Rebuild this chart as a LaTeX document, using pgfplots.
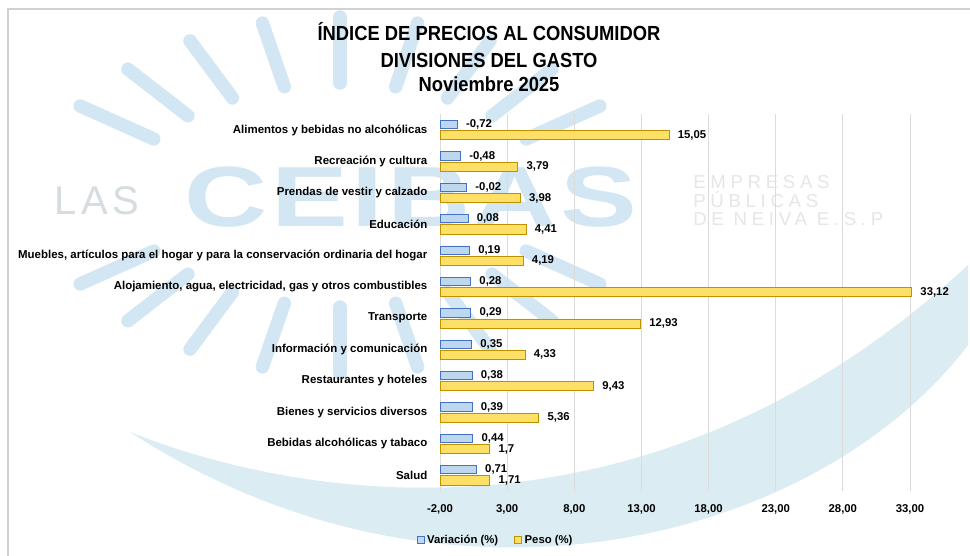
\documentclass[border=0pt]{standalone}
\usepackage{pgfplots}
\pgfplotsset{compat=1.18}
\usepackage{pgfplotstable}
\usepackage{fontspec}
\setmainfont{Liberation Sans}
\newfontfamily\titlefont{Liberation Sans}[FakeStretch=0.9]
\newfontfamily\wmbig{Liberation Sans}[FakeStretch=1.35,LetterSpace=4]
\newfontfamily\wmsmall{Liberation Sans}[LetterSpace=25]
\newfontfamily\wmlas{Liberation Sans}[LetterSpace=12]

\definecolor{varfill}{RGB}{189,215,238}
\definecolor{vardraw}{RGB}{68,114,196}
\definecolor{pesofill}{RGB}{255,224,102}
\definecolor{pesodraw}{RGB}{191,144,0}
\definecolor{wmblue}{RGB}{210,230,243}
\definecolor{wmswoosh}{RGB}{219,237,243}
\definecolor{wmgray}{RGB}{214,221,225}
\definecolor{wmgray2}{RGB}{228,230,232}

\pgfplotstableread{
idx var peso vl pl
0 -0.72 15.05 -0,72 15,05
1 -0.48 3.79 -0,48 3,79
2 -0.02 3.98 -0,02 3,98
3 0.08 4.41 0,08 4,41
4 0.19 4.19 0,19 4,19
5 0.28 33.12 0,28 33,12
6 0.29 12.93 0,29 12,93
7 0.35 4.33 0,35 4,33
8 0.38 9.43 0,38 9,43
9 0.39 5.36 0,39 5,36
10 0.44 1.7 0,44 1,7
11 0.71 1.71 0,71 1,71
}\datatable

\begin{document}
\begin{tikzpicture}
\begin{scope}[x=0.75pt,y=-0.75pt]
  \useasboundingbox (0,0) rectangle (970,556);
  \clip (0,0) rectangle (970,556);
  \fill[white] (0,0) rectangle (970,556);
  % watermark swoosh
  \fill[wmswoosh] (130,432) .. controls (300,500) and (650,560) .. (968,265)
     -- (968,345) .. controls (820,540) and (450,640) .. (130,432) -- cycle;
  % watermark rays
  \foreach \a in {30,45,...,150,210,225,...,330}{
    \draw[wmblue, line width=10pt, line cap=round]
      ({340+215*cos(\a)},{195-112*sin(\a)}) -- ({340+300*cos(\a)},{195-178*sin(\a)});
  }
  \node[wmblue, inner sep=0pt, anchor=center] at (411,197)
     {\wmbig\bfseries\fontsize{64}{64}\selectfont CEIBAS};
  \node[wmgray, inner sep=0pt, anchor=center] at (97,201)
     {\wmlas\fontsize{30}{30}\selectfont LAS};
  \node[wmgray2, inner sep=0pt, anchor=base west] at (693,188)
     {\wmsmall\fontsize{14}{14}\selectfont EMPRESAS};
  \node[wmgray2, inner sep=0pt, anchor=base west] at (693,207)
     {\wmsmall\fontsize{14}{14}\selectfont PÚBLICAS};
  \node[wmgray2, inner sep=0pt, anchor=base west] at (693,225)
     {\wmsmall\fontsize{14}{14}\selectfont DE NEIVA E.S.P};
  % frame
  \draw[black!18, line width=1.2pt] (8,556) -- (8,9) -- (970,9);
  % title
  \node[anchor=base, inner sep=0pt] at (489,41)
     {\titlefont\bfseries\fontsize{15.3}{18}\selectfont ÍNDICE DE PRECIOS AL CONSUMIDOR};
  \node[anchor=base, inner sep=0pt] at (489,68)
     {\titlefont\bfseries\fontsize{15.3}{18}\selectfont DIVISIONES DEL GASTO};
  \node[anchor=base, inner sep=0pt] at (489,92)
     {\titlefont\bfseries\fontsize{15.3}{18}\selectfont Noviembre 2025};
\end{scope}

\begin{axis}[
  at={(330pt,-368.03pt)}, anchor=south west,
  scale only axis, width=352.5pt, height=282.3pt,
  xbar,
  xmin=0, xmax=35, ymin=-0.5, ymax=11.5, y dir=reverse,
  xtick={0,5,...,35},
  xticklabels={{-2,00},{3,00},{8,00},{13,00},{18,00},{23,00},{28,00},{33,00}},
  ytick={0,...,11},
  yticklabels={Alimentos y bebidas no alcohólicas,
    Recreación y cultura,
    Prendas de vestir y calzado,
    Educación,
    {Muebles, artículos para el hogar y para la conservación ordinaria del hogar},
    {Alojamiento, agua, electricidad, gas y otros combustibles},
    Transporte,
    Información y comunicación,
    Restaurantes y hoteles,
    Bienes y servicios diversos,
    Bebidas alcohólicas y tabaco,
    Salud},
  major tick length=0pt,
  axis line style={draw=none},
  xmajorgrids, major grid style={black!14, line width=0.6pt},
  xticklabel style={font=\bfseries\fontsize{8.5}{10}\selectfont, yshift=-7pt},
  yticklabel style={font=\bfseries\fontsize{8.6}{10}\selectfont, xshift=-6pt},
  clip=false,
  legend columns=2,
  legend style={at={(axis description cs:0.119,-0.131)}, anchor=center,
    draw=none, fill=none, font=\bfseries\fontsize{8.5}{10}\selectfont,
    /tikz/every even column/.append style={column sep=10pt}},
  legend image code/.code={\draw[#1] (0pt,-2.6pt) rectangle (5.2pt,2.6pt);},
  nodes near coords,
  point meta=explicit symbolic,
  every node near coord/.append style={font=\bfseries\fontsize{8.5}{10}\selectfont, anchor=west, xshift=3pt, text=black},
]
\addplot[xbar, bar width=6.2pt, bar shift=4pt, fill=varfill, draw=vardraw, line width=0.6pt]
  table[x expr=\thisrow{var}+2, y=idx, meta=vl] {\datatable};
\addlegendentry{Variación (\%)}
\addplot[xbar, bar width=6.8pt, bar shift=-4pt, fill=pesofill, draw=pesodraw, line width=0.6pt]
  table[x expr=\thisrow{peso}+2, y=idx, meta=pl] {\datatable};
\addlegendentry{Peso (\%)}
\end{axis}
\end{tikzpicture}
\end{document}
